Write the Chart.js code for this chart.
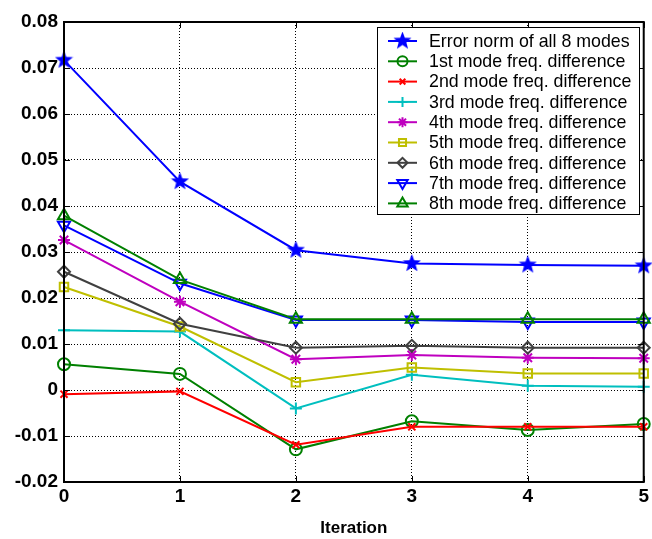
<!DOCTYPE html>
<html>
<head>
<meta charset="utf-8">
<script src="https://cdn.jsdelivr.net/npm/chart.js@4/dist/chart.umd.min.js"></script>
<style>
  html, body { margin: 0; padding: 0; background: #fff; }
  #wrap { width: 652px; height: 539px; }
</style>
</head>
<body>
<div id="wrap"><canvas id="plot" width="652" height="539"></canvas></div>
<script>
// iterations on the x axis
const iterations = [0, 1, 2, 3, 4, 5];
const yTicks = [-0.02, -0.01, 0, 0.01, 0.02, 0.03, 0.04, 0.05, 0.06, 0.07, 0.08];

// values
const errorNorm = [0.0717, 0.0453, 0.0304, 0.0275, 0.0272, 0.0270];
const mode1 = [0.0056, 0.0035, -0.0129, -0.0068, -0.0087, -0.0074];
const mode2 = [-0.0009, -0.0003, -0.0119, -0.0080, -0.0080, -0.0080];
const mode3 = [0.0130, 0.0127, -0.0040, 0.0033, 0.0009, 0.0007];
const mode4 = [0.0326, 0.0192, 0.0067, 0.0076, 0.0070, 0.0069];
const mode5 = [0.0224, 0.0138, 0.0017, 0.0049, 0.0036, 0.0036];
const mode6 = [0.0257, 0.0144, 0.0092, 0.0096, 0.0092, 0.0092];
const mode7 = [0.0358, 0.0232, 0.0152, 0.0152, 0.0148, 0.0148];
const mode8 = [0.0379, 0.0240, 0.0154, 0.0154, 0.0154, 0.0154];

const names = [
  'Error norm of all 8 modes',
  '1st mode freq. difference',
  '2nd mode freq. difference',
  '3rd mode freq. difference',
  '4th mode freq. difference',
  '5th mode freq. difference',
  '6th mode freq. difference',
  '7th mode freq. difference',
  '8th mode freq. difference'
];

// filled five point star, chart.js has none
function starImage(size, color) {
  let c = document.createElement('canvas');
  c.width = size; c.height = size;
  let g = c.getContext('2d');
  let r = size / 2, ri = r * 0.42;
  g.beginPath();
  for (let i = 0; i < 10; i++) {
    let a = -Math.PI / 2 + i * Math.PI / 5;
    let rr = i % 2 == 0 ? r : ri;
    g.lineTo(r + rr * Math.cos(a), r + rr * Math.sin(a));
  }
  g.closePath();
  g.fillStyle = color;
  g.fill();
  return c;
}
const star = starImage(19, '#0000ff');

const styles = [
  { color: '#0000ff', point: star, rot: 0, r: 8, fill: '#0000ff' },
  { color: '#008000', point: 'circle', rot: 0, r: 6, fill: 'rgba(0,0,0,0)' },
  { color: '#ff0000', point: 'crossRot', rot: 0, r: 5, fill: 'rgba(0,0,0,0)' },
  { color: '#00bfbf', point: 'cross', rot: 0, r: 6, fill: 'rgba(0,0,0,0)' },
  { color: '#bf00bf', point: 'star', rot: 0, r: 6, fill: 'rgba(0,0,0,0)' },
  { color: '#bfbf00', point: 'rect', rot: 0, r: 6, fill: 'rgba(0,0,0,0)' },
  { color: '#404040', point: 'rectRot', rot: 0, r: 6, fill: 'rgba(0,0,0,0)' },
  { color: '#0000ff', point: 'triangle', rot: 180, r: 7, fill: 'rgba(0,0,0,0)' },
  { color: '#008000', point: 'triangle', rot: 0, r: 7, fill: 'rgba(0,0,0,0)' }
];
const series = [errorNorm, mode1, mode2, mode3, mode4, mode5, mode6, mode7, mode8];

let datasets = series.map((s, k) => ({
  label: names[k],
  data: iterations.map((x, i) => ({ x: x, y: s[i] })),
  borderColor: styles[k].color,
  backgroundColor: styles[k].fill,
  borderWidth: 2,
  pointStyle: styles[k].point,
  pointRotation: styles[k].rot,
  pointRadius: styles[k].r,
  pointBorderWidth: 2,
  pointBorderColor: styles[k].color,
  pointBackgroundColor: styles[k].fill,
  clip: false,
  tension: 0
})).reverse();

// box round the axes with inward ticks, matlab style
const boxPlugin = {
  id: 'box',
  afterDraw(chart) {
    let ctx = chart.ctx, a = chart.chartArea;
    let xs = chart.scales.x, ys = chart.scales.y;
    ctx.save();
    ctx.strokeStyle = '#000';
    ctx.lineWidth = 1;
    ctx.beginPath();
    iterations.forEach(v => {
      let px = Math.round(xs.getPixelForValue(v)) + 0.5;
      ctx.moveTo(px, a.bottom); ctx.lineTo(px, a.bottom - 6);
      ctx.moveTo(px, a.top); ctx.lineTo(px, a.top + 6);
    });
    yTicks.forEach(v => {
      let py = Math.round(ys.getPixelForValue(v)) + 0.5;
      ctx.moveTo(a.left, py); ctx.lineTo(a.left + 6, py);
      ctx.moveTo(a.right, py); ctx.lineTo(a.right - 6, py);
    });
    ctx.stroke();
    ctx.lineWidth = 2;
    ctx.strokeRect(a.left, a.top, a.right - a.left, a.bottom - a.top);
    ctx.restore();
  }
};

// legend box in the upper right
const legendPlugin = {
  id: 'boxLegend',
  afterDraw(chart) {
    let ctx = chart.ctx;
    let x0 = 377, y0 = 27, w = 262, h = 187;
    ctx.save();
    ctx.fillStyle = '#fff';
    ctx.fillRect(x0, y0, w, h);
    ctx.strokeStyle = '#000';
    ctx.lineWidth = 1;
    ctx.strokeRect(x0 + 0.5, y0 + 0.5, w, h);
    ctx.font = '17.8px "Liberation Sans", Arial, sans-serif';
    ctx.textBaseline = 'middle';
    for (let k = 0; k < names.length; k++) {
      let yy = y0 + 14 + k * 20.3;
      let st = styles[k];
      ctx.strokeStyle = st.color;
      ctx.lineWidth = 2;
      ctx.beginPath();
      ctx.moveTo(388, yy); ctx.lineTo(417, yy);
      ctx.stroke();
      ctx.fillStyle = st.fill;
      Chart.helpers.drawPoint(ctx, {
        pointStyle: st.point, rotation: st.rot,
        radius: st.r - 1, borderWidth: 2
      }, 402.5, yy);
      ctx.fillStyle = '#000';
      ctx.fillText(names[k], 429, yy + 1);
    }
    ctx.restore();
  }
};

const tickFont = { family: '"Liberation Sans", Arial, sans-serif', size: 19, weight: 'bold' };

new Chart(document.getElementById('plot'), {
  type: 'line',
  data: { datasets: datasets },
  options: {
    responsive: false,
    animation: false,
    layout: { autoPadding: false, padding: { top: 22, right: 5, left: 0, bottom: 0 } },
    plugins: { legend: { display: false }, tooltip: { enabled: false } },
    scales: {
      x: {
        type: 'linear',
        min: 0, max: 5,
        afterFit(s) { s.height = 57; },
        ticks: { stepSize: 1, color: '#000', font: tickFont, padding: 3 },
        grid: { color: '#000', lineWidth: 1, drawTicks: false },
        border: { display: true, color: '#000', width: 2, dash: [1, 2] },
        title: {
          display: true, text: 'Iteration', color: '#000',
          font: { family: '"Liberation Sans", Arial, sans-serif', size: 17, weight: 'bold' },
          padding: { top: 7, bottom: 0 }
        }
      },
      y: {
        min: -0.02, max: 0.08,
        afterFit(s) { s.width = 64; },
        afterBuildTicks(s) { s.ticks = yTicks.map(v => ({ value: v })); },
        ticks: {
          color: '#000', font: tickFont, padding: 6,
          callback: v => (Math.abs(v) < 1e-9 ? '0' : (Math.round(v * 100) / 100).toFixed(2))
        },
        grid: { color: '#000', lineWidth: 1, drawTicks: false },
        border: { display: true, color: '#000', width: 2, dash: [1, 2] }
      }
    }
  },
  plugins: [boxPlugin, legendPlugin]
});
</script>
</body>
</html>
